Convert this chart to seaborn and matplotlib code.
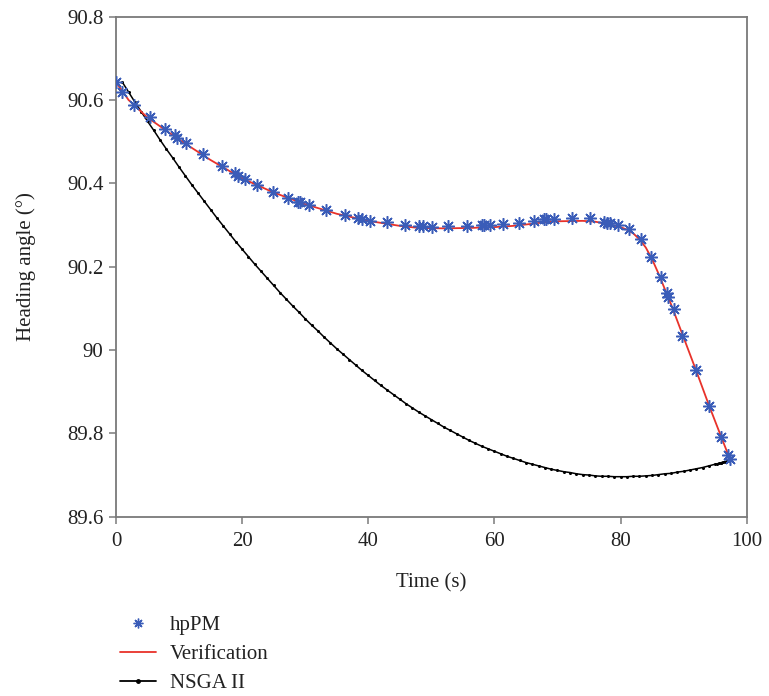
import numpy as np
import pandas as pd
import matplotlib
matplotlib.use("Agg")
import matplotlib.pyplot as plt
import seaborn as sns
from matplotlib.lines import Line2D

# ---- data ----
hppm_t = [0.0, 0.9, 2.85, 5.4, 7.8, 9.4, 9.7, 11.1, 13.8, 16.8, 18.9, 19.3, 20.4, 22.4,
          24.9, 27.3, 28.8, 29.2, 30.6, 33.3, 36.3, 38.4, 39.0, 40.3, 42.9, 45.9, 48.1, 48.7,
          50.1, 52.7, 55.7, 58.0, 58.4, 59.3, 61.4, 63.9, 66.2, 67.8, 68.2, 69.5, 72.3, 75.2,
          77.3, 77.8, 78.3, 79.6, 81.3, 83.2, 84.9, 86.4, 87.3, 87.5, 88.4, 89.8, 91.9, 94.1,
          95.9, 97.1, 97.4]
hppm_v = [90.643, 90.620, 90.588, 90.560, 90.531, 90.515, 90.510, 90.496, 90.471, 90.442,
          90.424, 90.418, 90.411, 90.397, 90.380, 90.366, 90.356, 90.355, 90.348, 90.335,
          90.323, 90.316, 90.314, 90.310, 90.307, 90.301, 90.298, 90.298, 90.296, 90.298,
          90.298, 90.301, 90.301, 90.301, 90.302, 90.306, 90.310, 90.314, 90.314, 90.314,
          90.316, 90.318, 90.308, 90.306, 90.304, 90.300, 90.290, 90.267, 90.224, 90.175,
          90.138, 90.128, 90.098, 90.034, 89.952, 89.866, 89.792, 89.748, 89.738]

verif_t = [0, 2, 5, 10, 15, 20, 25, 30, 35, 40, 45, 48, 52, 56, 60, 63, 66, 68, 70, 74,
           76, 78, 80, 81, 82, 83, 84, 85, 86, 88, 90, 92, 94, 96, 97.4]
verif_v = [90.643, 90.600, 90.558, 90.505, 90.456, 90.412, 90.378, 90.350, 90.327, 90.310,
           90.298, 90.293, 90.292, 90.293, 90.295, 90.298, 90.303, 90.307, 90.309, 90.310,
           90.308, 90.302, 90.295, 90.289, 90.280, 90.266, 90.246, 90.218, 90.184, 90.110,
           90.030, 89.950, 89.868, 89.790, 89.736]

nsga_t = list(range(1, 98)) + [95.3, 95.6, 95.9, 96.2, 96.5, 96.8, 97.2, 97.4]
nsga_v = [90.643, 90.619, 90.595, 90.572, 90.549, 90.527, 90.504, 90.482, 90.461, 90.439,
          90.418, 90.397, 90.377, 90.357, 90.337, 90.317, 90.298, 90.279, 90.260, 90.242,
          90.224, 90.206, 90.189, 90.172, 90.155, 90.138, 90.122, 90.106, 90.091, 90.075,
          90.060, 90.046, 90.031, 90.017, 90.003, 89.990, 89.977, 89.964, 89.951, 89.939,
          89.927, 89.915, 89.904, 89.893, 89.882, 89.871, 89.861, 89.851, 89.842, 89.833,
          89.824, 89.815, 89.807, 89.799, 89.791, 89.783, 89.776, 89.769, 89.763, 89.757,
          89.751, 89.745, 89.740, 89.735, 89.730, 89.726, 89.722, 89.718, 89.714, 89.711,
          89.708, 89.706, 89.703, 89.701, 89.700, 89.698, 89.697, 89.697, 89.696, 89.696,
          89.696, 89.697, 89.697, 89.698, 89.699, 89.701, 89.703, 89.704, 89.707, 89.709,
          89.712, 89.715, 89.718, 89.722, 89.726, 89.730, 89.734,
          89.727, 89.728, 89.729, 89.731, 89.732, 89.733, 89.735, 89.736]

x_ticks = [0, 20, 40, 60, 80, 100]
y_ticks = [89.6, 89.8, 90.0, 90.2, 90.4, 90.6, 90.8]
y_ticklabels = ["89.6", "89.8", "90", "90.2", "90.4", "90.6", "90.8"]

# ---- style ----
sns.set_style("ticks")
plt.rcParams['font.family'] = ['Liberation Serif', 'DejaVu Serif']

SPINE = "#7a7a7a"
BLUE = "#3a5cb8"
RED = "#e8322a"
TXT = "#222222"
FS = 15

fig = plt.figure(figsize=(7.69, 6.96), dpi=100)
ax = fig.add_axes([116 / 769, 1 - 516.7 / 696, (746.7 - 116) / 769, (516.7 - 16.7) / 696])

df_n = pd.DataFrame({"t": nsga_t, "v": nsga_v}).sort_values("t")
df_v = pd.DataFrame({"t": verif_t, "v": verif_v})
df_h = pd.DataFrame({"t": hppm_t, "v": hppm_v})

sns.lineplot(data=df_n, x="t", y="v", ax=ax, color="black", lw=1.1, marker="o",
             markersize=2.2, markeredgewidth=0, sort=False, estimator=None, zorder=2)
sns.lineplot(data=df_v, x="t", y="v", ax=ax, color=RED, lw=1.3, sort=False,
             estimator=None, zorder=3)
ax.plot(df_h["t"], df_h["v"], linestyle="none", marker=(8, 2, 0), markersize=9,
        markeredgewidth=1.1, color=BLUE, markeredgecolor=BLUE, zorder=4)

ax.set_xlim(0, 100)
ax.set_ylim(89.6, 90.8)
ax.set_xticks(x_ticks)
ax.set_xticklabels([str(x) for x in x_ticks])
ax.set_yticks(y_ticks)
ax.set_yticklabels(y_ticklabels)

for s in ax.spines.values():
    s.set_color(SPINE)
    s.set_linewidth(1.3)
ax.tick_params(axis="both", which="both", direction="out", length=5, width=1.1,
               color=SPINE, labelsize=FS, labelcolor=TXT, top=False, right=False)
ax.tick_params(axis="x", pad=6)
ax.tick_params(axis="y", pad=4)

ax.set_xlabel("Time (s)", fontsize=FS, color=TXT, labelpad=16)
ax.set_ylabel("Heading angle (°)", fontsize=FS, color=TXT, labelpad=22)

handles = [
    Line2D([], [], linestyle="none", marker=(8, 2, 0), markersize=7, markeredgewidth=1.0,
           color=BLUE),
    Line2D([], [], color=RED, lw=1.3),
    Line2D([], [], color="black", lw=1.3, marker="o", markersize=2.5),
]
fig.legend(handles, ["hpPM", "Verification", "NSGA II"], loc="upper left",
           bbox_to_anchor=(101 / 769, 1 - 597 / 696), frameon=False, fontsize=FS,
           handlelength=1.75, handletextpad=0.65, labelspacing=0.45, labelcolor=TXT)

fig.savefig("out.png", dpi=100)
